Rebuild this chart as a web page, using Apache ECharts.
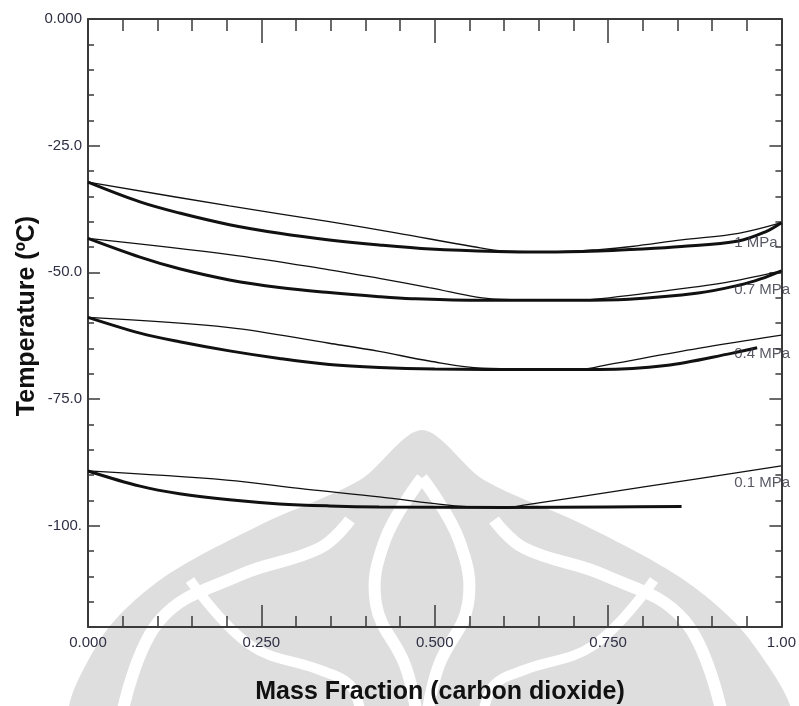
<!DOCTYPE html>
<html>
<head>
<meta charset="utf-8">
<script src="https://cdn.jsdelivr.net/npm/echarts@6/dist/echarts.min.js"></script>
<style>
html, body { margin: 0; padding: 0; background: #fff; }
#main { width: 799px; height: 706px; }
</style>
</head>
<body>
<div id="main"></div>
<script>
// tick labels as printed on the original plot
var xTickLabels = ['0.000', '0.250', '0.500', '0.750', '1.00'];
var yTickLabels = ['0.000', '-25.0', '-50.0', '-75.0', '-100.'];

// curve labels (text, mass fraction, temperature)
var pressureNames = ['1 MPa', '0.7 MPa', '0.4 MPa', '0.1 MPa'];
var pressureLabelX = [0.932, 0.932, 0.932, 0.932];
var pressureLabelT = [-44.1, -53.5, -66.0, -91.6];

// bubble (thick) and dew (thin) curves, [mass fraction CO2, T in C]
var bubble1 = [[0, -32.2], [0.075, -36.1], [0.132, -38.3], [0.204, -40.6], [0.276, -42.3], [0.348, -43.6], [0.42, -44.6], [0.494, -45.4], [0.59, -45.9], [0.66, -46.0], [0.737, -45.8], [0.784, -45.5], [0.856, -44.9], [0.938, -43.8], [0.977, -42.0], [1.0, -40.2]];
var dew1 = [[0, -32.2], [0.204, -36.9], [0.348, -40.0], [0.444, -42.2], [0.554, -44.9], [0.6, -45.8], [0.68, -45.9], [0.737, -45.5], [0.784, -44.9], [0.856, -43.6], [0.938, -42.3], [1.0, -40.2]];

var bubble07 = [[0, -43.3], [0.075, -47.0], [0.132, -49.3], [0.204, -51.5], [0.276, -53.0], [0.348, -54.0], [0.42, -54.8], [0.467, -55.2], [0.55, -55.5], [0.7, -55.5], [0.78, -55.3], [0.88, -54.1], [0.94, -52.5], [0.97, -51.3], [1.0, -49.7]];
var dew07 = [[0, -43.3], [0.204, -46.5], [0.348, -49.5], [0.42, -51.2], [0.492, -53.0], [0.588, -55.3], [0.7, -55.5], [0.74, -55.2], [0.88, -52.8], [0.928, -51.8], [1.0, -49.7]];

var bubble04 = [[0, -58.9], [0.075, -62.0], [0.132, -63.7], [0.204, -65.5], [0.276, -67.0], [0.348, -68.2], [0.42, -68.8], [0.5, -69.1], [0.65, -69.2], [0.737, -69.2], [0.833, -68.4], [0.928, -66.0], [0.965, -64.9]];
var dew04 = [[0, -58.9], [0.204, -60.9], [0.348, -64.0], [0.42, -65.6], [0.492, -67.5], [0.568, -68.9], [0.712, -69.1], [0.75, -68.2], [0.88, -65.0], [1.0, -62.4]];

var bubble01 = [[0, -89.2], [0.075, -92.2], [0.132, -93.7], [0.204, -94.9], [0.276, -95.7], [0.348, -96.1], [0.42, -96.3], [0.6, -96.4], [0.75, -96.3], [0.856, -96.2]];
var dew01 = [[0, -89.2], [0.2, -91.0], [0.313, -92.8], [0.42, -94.3], [0.516, -95.9], [0.56, -96.3], [0.61, -96.3], [0.631, -95.9], [0.804, -92.3], [1.0, -88.2]];

var axisColor = '#3a3a3a';
var labelColor = '#2e2e44';

var myChart = echarts.init(document.getElementById('main'));

function curve(data, thick) {
    return {
        type: 'line',
        data: data,
        xAxisIndex: 0,
        yAxisIndex: 0,
        showSymbol: false,
        smooth: 0.35,
        lineStyle: { color: '#111', width: thick ? 3 : 1.3 },
        z: 5,
        silent: true
    };
}

var labelData = [];
for (var i = 0; i < pressureNames.length; i++) {
    labelData.push({ value: [pressureLabelX[i], pressureLabelT[i]], name: pressureNames[i] });
}

// x axes: one carries minor ticks (0.05), one major ticks (0.25) + labels
function xAx(pos, step, tickLen, labels, line) {
    return {
        type: 'value', position: pos, min: 0, max: 1, interval: step,
        axisLine: { show: line, onZero: false, lineStyle: { color: axisColor, width: 2 } },
        axisTick: { show: true, inside: true, length: tickLen, lineStyle: { color: axisColor, width: 1.5 } },
        splitLine: { show: false },
        axisLabel: {
            show: labels, margin: 8, fontSize: 15, fontFamily: 'Liberation Sans', color: labelColor,
            showMinLabel: true, showMaxLabel: true,
            formatter: function (v) { return xTickLabels[Math.round(v / 0.25)]; }
        }
    };
}
function yMinor(pos) {
    return {
        type: 'value', position: pos, min: -120, max: 0, interval: 5,
        axisLine: { show: true, onZero: false, lineStyle: { color: axisColor, width: 2 } },
        axisTick: { show: true, inside: true, length: 6, lineStyle: { color: axisColor, width: 1.5 } },
        axisLabel: { show: false },
        splitLine: { show: false }
    };
}
function yMajor(pos, labels) {
    return {
        type: 'value', position: pos, min: 0, max: 120, interval: 25, inverse: true,
        axisLine: { show: false, onZero: false },
        axisTick: { show: true, inside: true, length: 12, lineStyle: { color: axisColor, width: 1.5 } },
        axisLabel: {
            show: labels, margin: 6, fontSize: 15, fontFamily: 'Liberation Sans', color: labelColor,
            formatter: function (v) { return yTickLabels[Math.round(v / 25)]; }
        },
        splitLine: { show: false }
    };
}

function wm(type, shape, style) {
    return { type: type, shape: shape, style: style, z: -10, silent: true };
}
var wmStroke = { fill: null, stroke: '#fff', lineWidth: 12 };
var wmStroke2 = { fill: null, stroke: '#fff', lineWidth: 10 };

var option = {
    animation: false,
    backgroundColor: '#fff',
    grid: { left: 88, right: 16, top: 19, bottom: 79, containLabel: false },
    xAxis: [
        xAx('bottom', 0.05, 11, false, true),
        xAx('bottom', 0.25, 22, true, false),
        xAx('top', 0.05, 12, false, true),
        xAx('top', 0.25, 24, false, false)
    ],
    yAxis: [yMinor('left'), yMajor('left', true), yMinor('right'), yMajor('right', false)],
    graphic: [
        // faint watermark logo behind the plot
        wm('polygon', { smooth: 0.3, points: [[76, 720], [100, 640], [160, 580], [260, 525], [360, 480], [422, 430], [484, 480], [584, 525], [684, 580], [750, 640], [785, 720]] }, { fill: '#dedede' }),
        wm('polyline', { smooth: 0.4, points: [[422, 478], [385, 540], [376, 604], [405, 665], [416, 710]] }, wmStroke),
        wm('polyline', { smooth: 0.4, points: [[422, 478], [459, 540], [468, 604], [439, 665], [428, 710]] }, wmStroke),
        wm('polyline', { smooth: 0.4, points: [[123, 710], [160, 620], [240, 575], [320, 548], [350, 520]] }, wmStroke),
        wm('polyline', { smooth: 0.4, points: [[721, 710], [684, 620], [604, 575], [524, 548], [494, 520]] }, wmStroke),
        wm('polyline', { smooth: 0.4, points: [[190, 580], [250, 645], [320, 670], [350, 685], [360, 710]] }, wmStroke2),
        wm('polyline', { smooth: 0.4, points: [[654, 580], [594, 645], [524, 670], [494, 685], [484, 710]] }, wmStroke2),
        {
            type: 'text', x: 440, y: 692, z: 10,
            style: { text: 'Mass Fraction (carbon dioxide)', font: 'bold 25px "Liberation Sans"', fill: '#111', textAlign: 'center', textVerticalAlign: 'middle' }
        },
        {
            type: 'text', x: 27, y: 316, rotation: Math.PI / 2, z: 10,
            style: { text: 'Temperature (ºC)', font: 'bold 25px "Liberation Sans"', fill: '#111', textAlign: 'center', textVerticalAlign: 'middle' }
        }
    ],
    series: [
        curve(bubble1, true), curve(dew1, false),
        curve(bubble07, true), curve(dew07, false),
        curve(bubble04, true), curve(dew04, false),
        curve(bubble01, true), curve(dew01, false),
        {
            type: 'scatter', data: labelData, symbolSize: 0, z: 6, silent: true,
            label: {
                show: true, position: [0, 0], align: 'left', verticalAlign: 'middle',
                formatter: '{b}', fontSize: 15, fontFamily: 'Liberation Sans', color: '#2e2e3e'
            }
        }
    ]
};

myChart.setOption(option);
</script>
</body>
</html>
